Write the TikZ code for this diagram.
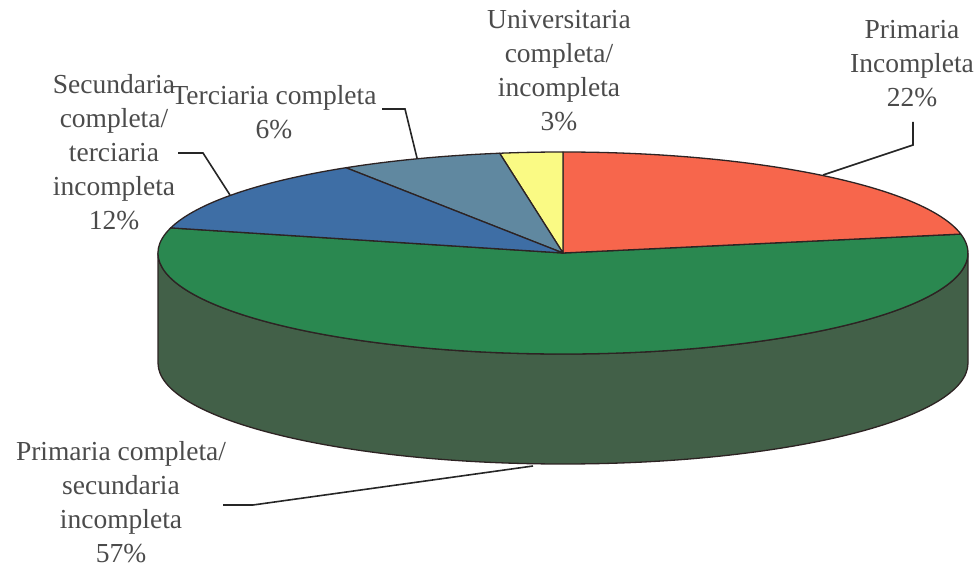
\documentclass[tikz,border=0pt]{standalone}
\usepackage{fontspec}
\setmainfont{Liberation Serif}
\definecolor{cred}{RGB}{247,102,76}
\definecolor{cyel}{RGB}{250,250,132}
\definecolor{cter}{RGB}{96,136,160}
\definecolor{csec}{RGB}{62,110,165}
\definecolor{cgrn}{RGB}{42,136,80}
\definecolor{cside}{RGB}{66,96,72}
\definecolor{ctxt}{RGB}{75,75,75}
\definecolor{cedge}{RGB}{45,35,35}
\begin{document}
\begin{tikzpicture}[x=1pt,y=1pt,
  slice/.style={draw=cedge,line width=1.3pt,line join=round},
  lbl/.style={align=center,text=ctxt,font=\fontsize{27.5}{34}\selectfont,inner sep=0pt},
  leader/.style={draw=black!85,line width=1.6pt}]
\useasboundingbox (0,0) rectangle (978,-569);
\coordinate (C) at (563,-253);
% side
\path[slice,fill=cside] (158,-253) arc[start angle=180,end angle=360,x radius=405,y radius=101]
  -- ++(0,-110) arc[start angle=360,end angle=180,x radius=405,y radius=101] -- cycle;
% top slices
\path[slice,fill=cgrn] (C) -- +(165.6:405 and 101) arc[start angle=165.6,end angle=370.8,x radius=405,y radius=101] -- cycle;
\path[slice,fill=cred] (C) -- +(10.8:405 and 101) arc[start angle=10.8,end angle=90,x radius=405,y radius=101] -- cycle;
\path[slice,fill=cyel] (C) -- +(90:405 and 101) arc[start angle=90,end angle=99,x radius=405,y radius=101] -- cycle;
\path[slice,fill=cter] (C) -- +(99:405 and 101) arc[start angle=99,end angle=122.4,x radius=405,y radius=101] -- cycle;
\path[slice,fill=csec] (C) -- +(122.4:405 and 101) arc[start angle=122.4,end angle=165.6,x radius=405,y radius=101] -- cycle;
% labels
\node[lbl] (uni) at (559,-71) {Universitaria\\completa/\\incompleta\\3\%};
\node[lbl] (pinc) at (912,-64) {Primaria\\Incompleta\\22\%};
\node[lbl] (ter) at (274,-112) {Terciaria completa\\6\%};
\node[lbl] (sec) at (114,-152) {Secundaria\\completa/\\terciaria\\incompleta\\12\%};
\node[lbl] (pcom) at (121,-502) {Primaria completa/\\secundaria\\incompleta\\57\%};
% leader lines
\coordinate (p1) at (913,-122); \coordinate (p1b) at (913,-145); \coordinate (p1e) at (823,-175);
\draw[leader] (p1) -- (p1b) -- (p1e);
\coordinate (t1) at (382,-109); \coordinate (t1b) at (405,-109); \coordinate (t1e) at (417,-158);
\draw[leader] (t1) -- (t1b) -- (t1e);
\coordinate (s1) at (178,-153); \coordinate (s1b) at (203,-153); \coordinate (s1e) at (230,-195);
\draw[leader] (s1) -- (s1b) -- (s1e);
\coordinate (c1) at (223,-505); \coordinate (c1b) at (253,-505); \coordinate (c1e) at (533,-466);
\draw[leader] (c1) -- (c1b) -- (c1e);
\end{tikzpicture}
\end{document}
